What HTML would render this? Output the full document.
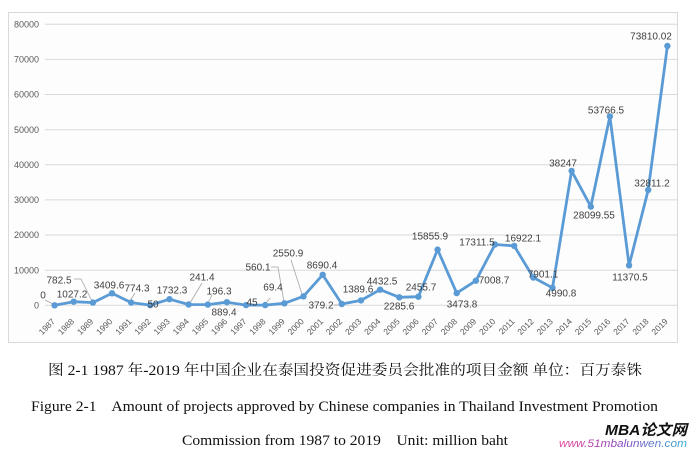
<!DOCTYPE html>
<html><head><meta charset="utf-8"><style>
html,body{margin:0;padding:0;background:#fff;}
svg{display:block;}
.dl{font-family:"Liberation Sans",sans-serif;font-size:10px;fill:#404040;text-anchor:middle;}
.yl{font-family:"Liberation Sans",sans-serif;font-size:9px;fill:#595959;text-anchor:end;}
.xl{font-family:"Liberation Sans",sans-serif;font-size:8.5px;fill:#595959;text-anchor:end;}
.ld{stroke:#a6a6a6;stroke-width:0.8;fill:none;}
</style></head><body>
<svg width="690" height="450" viewBox="0 0 690 450" xmlns="http://www.w3.org/2000/svg">
<defs>
<linearGradient id="wg" x1="0" x2="1" y1="0" y2="0">
<stop offset="0" stop-color="#e8459a"/><stop offset="0.5" stop-color="#8a4cc0"/><stop offset="1" stop-color="#35b0d8"/>
</linearGradient>
</defs>
<rect x="0" y="0" width="690" height="450" fill="#fff"/>
<rect x="8.5" y="12.5" width="669" height="330" fill="#fdfdfd" stroke="#d9d9d9" stroke-width="1"/>
<g stroke="#d9d9d9" stroke-width="1">
<line x1="45" x2="677" y1="24.3" y2="24.3"/>
<line x1="45" x2="677" y1="59.4" y2="59.4"/>
<line x1="45" x2="677" y1="94.5" y2="94.5"/>
<line x1="45" x2="677" y1="129.7" y2="129.7"/>
<line x1="45" x2="677" y1="164.8" y2="164.8"/>
<line x1="45" x2="677" y1="199.9" y2="199.9"/>
<line x1="45" x2="677" y1="235.0" y2="235.0"/>
<line x1="45" x2="677" y1="270.2" y2="270.2"/>
<line x1="45" x2="677" y1="305.3" y2="305.3"/>
</g>
<g class="yl">
<text x="39" y="27.5">80000</text>
<text x="39" y="62.6">70000</text>
<text x="39" y="97.7">60000</text>
<text x="39" y="132.9">50000</text>
<text x="39" y="168">40000</text>
<text x="39" y="203.1">30000</text>
<text x="39" y="238.2">20000</text>
<text x="39" y="273.4">10000</text>
<text x="39" y="308.5">0</text>
</g>
<!-- leader lines -->
<polyline class="ld" points="45,300 53,304"/>
<polyline class="ld" points="74,279 81,279 92,301"/>
<polyline class="ld" points="135,293 130,301"/>
<polyline class="ld" points="202,283 190,303"/>
<polyline class="ld" points="212,295 208,303"/>
<polyline class="ld" points="270,298 266,303"/>
<polyline class="ld" points="271,267 278,267 284,302"/>
<polyline class="ld" points="291,260 302,294"/>
<polyline class="ld" points="334,305 340,305"/>
<!-- series -->
<polyline fill="none" stroke="#5b9bd5" stroke-width="2.8" stroke-linejoin="round" points="54.6,305.3 73.7,301.7 92.9,302.6 112.0,293.3 131.2,302.6 150.3,305.1 169.5,299.2 188.6,304.5 207.8,304.6 226.9,302.2 246.1,305.1 265.2,305.1 284.4,303.3 303.5,296.3 322.7,274.8 341.8,304.0 361.0,300.4 380.1,289.7 399.3,297.3 418.4,296.7 437.6,249.6 456.7,293.1 475.9,280.7 495.0,244.5 514.2,245.9 533.3,277.5 552.5,287.8 571.6,170.9 590.8,206.6 609.9,116.4 629.1,265.4 648.2,190.0 667.4,46.0"/>
<g fill="#5b9bd5">
<circle cx="54.6" cy="305.3" r="3.2"/><circle cx="73.7" cy="301.7" r="3.2"/><circle cx="92.9" cy="302.6" r="3.2"/><circle cx="112.0" cy="293.3" r="3.2"/><circle cx="131.2" cy="302.6" r="3.2"/><circle cx="150.3" cy="305.1" r="3.2"/><circle cx="169.5" cy="299.2" r="3.2"/><circle cx="188.6" cy="304.5" r="3.2"/><circle cx="207.8" cy="304.6" r="3.2"/><circle cx="226.9" cy="302.2" r="3.2"/><circle cx="246.1" cy="305.1" r="3.2"/><circle cx="265.2" cy="305.1" r="3.2"/><circle cx="284.4" cy="303.3" r="3.2"/><circle cx="303.5" cy="296.3" r="3.2"/><circle cx="322.7" cy="274.8" r="3.2"/><circle cx="341.8" cy="304.0" r="3.2"/><circle cx="361.0" cy="300.4" r="3.2"/><circle cx="380.1" cy="289.7" r="3.2"/><circle cx="399.3" cy="297.3" r="3.2"/><circle cx="418.4" cy="296.7" r="3.2"/><circle cx="437.6" cy="249.6" r="3.2"/><circle cx="456.7" cy="293.1" r="3.2"/><circle cx="475.9" cy="280.7" r="3.2"/><circle cx="495.0" cy="244.5" r="3.2"/><circle cx="514.2" cy="245.9" r="3.2"/><circle cx="533.3" cy="277.5" r="3.2"/><circle cx="552.5" cy="287.8" r="3.2"/><circle cx="571.6" cy="170.9" r="3.2"/><circle cx="590.8" cy="206.6" r="3.2"/><circle cx="609.9" cy="116.4" r="3.2"/><circle cx="629.1" cy="265.4" r="3.2"/><circle cx="648.2" cy="190.0" r="3.2"/><circle cx="667.4" cy="46.0" r="3.2"/>
</g>
<!-- data labels -->
<g class="dl">
<text x="43" y="298.5">0</text>
<text x="59" y="283.5">782.5</text>
<text x="72" y="297.5">1027.2</text>
<text x="109" y="288.5">3409.6</text>
<text x="137" y="291.5">774.3</text>
<text x="153" y="307.5">50</text>
<text x="172" y="293.5">1732.3</text>
<text x="202" y="280.5">241.4</text>
<text x="219" y="294.5">196.3</text>
<text x="224" y="315.5">889.4</text>
<text x="252" y="305.5">45</text>
<text x="273" y="290.5">69.4</text>
<text x="258" y="270.5">560.1</text>
<text x="288" y="256.5">2550.9</text>
<text x="322" y="268.5">8690.4</text>
<text x="321" y="308.5">379.2</text>
<text x="358" y="292.5">1389.6</text>
<text x="382" y="284.5">4432.5</text>
<text x="399" y="309.5">2285.6</text>
<text x="421" y="290.5">2455.7</text>
<text x="430" y="239.5">15855.9</text>
<text x="462" y="307.5">3473.8</text>
<text x="494" y="283.5">7008.7</text>
<text x="477" y="245.5">17311.5</text>
<text x="523" y="241.5">16922.1</text>
<text x="543" y="277.5">7901.1</text>
<text x="561" y="296.5">4990.8</text>
<text x="563" y="166.5">38247</text>
<text x="594" y="218.5">28099.55</text>
<text x="606" y="113.5">53766.5</text>
<text x="630" y="280.5">11370.5</text>
<text x="652" y="186.5">32811.2</text>
<text x="651" y="39.5">73810.02</text>
</g>
<!-- x labels -->
<g class="xl">
<text transform="translate(55.6,322) rotate(-45)">1987</text>
<text transform="translate(74.7,322) rotate(-45)">1988</text>
<text transform="translate(93.9,322) rotate(-45)">1989</text>
<text transform="translate(113.0,322) rotate(-45)">1990</text>
<text transform="translate(132.2,322) rotate(-45)">1991</text>
<text transform="translate(151.3,322) rotate(-45)">1992</text>
<text transform="translate(170.5,322) rotate(-45)">1993</text>
<text transform="translate(189.6,322) rotate(-45)">1994</text>
<text transform="translate(208.8,322) rotate(-45)">1995</text>
<text transform="translate(227.9,322) rotate(-45)">1996</text>
<text transform="translate(247.1,322) rotate(-45)">1997</text>
<text transform="translate(266.2,322) rotate(-45)">1998</text>
<text transform="translate(285.4,322) rotate(-45)">1999</text>
<text transform="translate(304.5,322) rotate(-45)">2000</text>
<text transform="translate(323.7,322) rotate(-45)">2001</text>
<text transform="translate(342.8,322) rotate(-45)">2002</text>
<text transform="translate(362.0,322) rotate(-45)">2003</text>
<text transform="translate(381.1,322) rotate(-45)">2004</text>
<text transform="translate(400.3,322) rotate(-45)">2005</text>
<text transform="translate(419.4,322) rotate(-45)">2006</text>
<text transform="translate(438.6,322) rotate(-45)">2007</text>
<text transform="translate(457.7,322) rotate(-45)">2008</text>
<text transform="translate(476.9,322) rotate(-45)">2009</text>
<text transform="translate(496.0,322) rotate(-45)">2010</text>
<text transform="translate(515.2,322) rotate(-45)">2011</text>
<text transform="translate(534.3,322) rotate(-45)">2012</text>
<text transform="translate(553.5,322) rotate(-45)">2013</text>
<text transform="translate(572.6,322) rotate(-45)">2014</text>
<text transform="translate(591.8,322) rotate(-45)">2015</text>
<text transform="translate(610.9,322) rotate(-45)">2016</text>
<text transform="translate(630.1,322) rotate(-45)">2017</text>
<text transform="translate(649.2,322) rotate(-45)">2018</text>
<text transform="translate(668.4,322) rotate(-45)">2019</text>
</g>
<!-- captions -->
<text x="48" y="375" textLength="594" lengthAdjust="spacingAndGlyphs" font-family="'Liberation Serif','Noto Serif CJK SC',serif" font-size="14.5" fill="#111">图 2-1 1987 年-2019 年中国企业在泰国投资促进委员会批准的项目金额  单位：百万泰铢</text>
<text x="31" y="411" textLength="627" lengthAdjust="spacingAndGlyphs" font-family="'Liberation Serif',serif" font-size="15" fill="#111" xml:space="preserve">Figure 2-1    Amount of projects approved by Chinese companies in Thailand Investment Promotion</text>
<text x="182" y="445" textLength="326" lengthAdjust="spacingAndGlyphs" font-family="'Liberation Serif',serif" font-size="15" fill="#111" xml:space="preserve">Commission from 1987 to 2019    Unit: million baht</text>
<!-- watermark -->
<text x="605" y="435" textLength="82" lengthAdjust="spacingAndGlyphs" font-family="'Liberation Sans','Noto Sans CJK SC',sans-serif" font-size="15" font-weight="bold" font-style="italic" fill="#111">MBA论文网</text>
<text x="559" y="447" textLength="128" lengthAdjust="spacingAndGlyphs" font-family="'Liberation Sans',sans-serif" font-size="11" font-style="italic" fill="url(#wg)">www.51mbalunwen.com</text>
</svg>
</body></html>
